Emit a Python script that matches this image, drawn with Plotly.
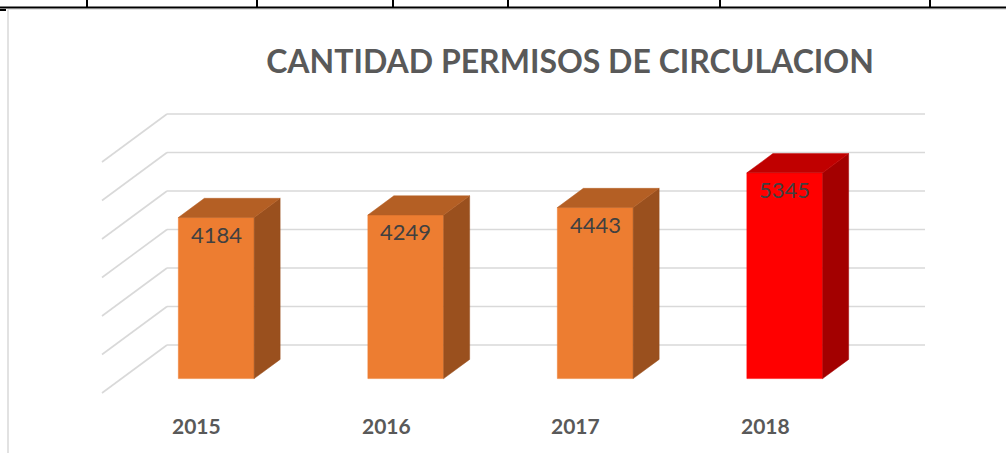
import plotly.graph_objects as go

# ---------------- data ----------------
years = ["2015", "2016", "2017", "2018"]
permits = [4184, 4249, 4443, 5345]
grid_values = [0, 1000, 2000, 3000, 4000, 5000, 6000]
title_text = "CANTIDAD PERMISOS DE CIRCULACION"

front_colors = ["#ED7D31", "#ED7D31", "#ED7D31", "#FF0000"]
top_colors = ["#B45F24", "#B45F24", "#B45F24", "#C00000"]
side_colors = ["#9A501E", "#9A501E", "#9A501E", "#A30000"]

# ---------------- geometry (pixels -> axis units) ----------------
W, H = 1006, 453
WALL_X0, WALL_X1 = 167, 925          # back wall left/right in pixels
ZERO_Y = 345                          # back wall value 0 in pixels
PX_PER_UNIT_Y = 38.5 / 1000           # pixels per value unit
PX_PER_CAT = (WALL_X1 - WALL_X0) / len(years)

x_range = [-WALL_X0 / PX_PER_CAT, (W - WALL_X0) / PX_PER_CAT]
y_range = [(ZERO_Y - H) / PX_PER_UNIT_Y, ZERO_Y / PX_PER_UNIT_Y]

DX = 65 / PX_PER_CAT                  # full floor depth, x direction
DY = 48 / PX_PER_UNIT_Y               # full floor depth, y direction
BAR_W = 0.4
D_FRONT, D_BACK = 0.3, 0.7           # bar depth span (0 = front, 1 = back)


def proj(x, v, d):
    """project back-wall coords (x, v) at depth d onto the plot plane"""
    return x - (1 - d) * DX, v - (1 - d) * DY


fig = go.Figure()

# gridlines: back wall + left-side diagonals
gx, gy = [], []
for g in grid_values:
    gx += [0, len(years), None]
    gy += [g, g, None]
    x0, y0 = proj(0, g, 1)
    x1, y1 = proj(0, g, 0)
    gx += [x0, x1, None]
    gy += [y0, y1, None]
fig.add_trace(go.Scatter(x=gx, y=gy, mode="lines",
                         line=dict(color="#D9D9D9", width=1.6),
                         hoverinfo="skip", showlegend=False))

# bars as 3D boxes
for i, v in enumerate(permits):
    c = i + 0.5
    xl, xr = c - BAR_W / 2, c + BAR_W / 2
    # front face
    pts = [proj(xl, 0, D_FRONT), proj(xr, 0, D_FRONT),
           proj(xr, v, D_FRONT), proj(xl, v, D_FRONT)]
    fx = [p[0] for p in pts] + [pts[0][0]]
    fy = [p[1] for p in pts] + [pts[0][1]]
    fig.add_trace(go.Scatter(x=fx, y=fy, fill="toself", mode="lines",
                             fillcolor=front_colors[i],
                             line=dict(color=front_colors[i], width=0.5),
                             hoverinfo="skip", showlegend=False))
    # side face
    pts = [proj(xr, 0, D_FRONT), proj(xr, 0, D_BACK),
           proj(xr, v, D_BACK), proj(xr, v, D_FRONT)]
    sx = [p[0] for p in pts] + [pts[0][0]]
    sy = [p[1] for p in pts] + [pts[0][1]]
    fig.add_trace(go.Scatter(x=sx, y=sy, fill="toself", mode="lines",
                             fillcolor=side_colors[i],
                             line=dict(color=side_colors[i], width=0.5),
                             hoverinfo="skip", showlegend=False))
    # top face
    pts = [proj(xl, v, D_FRONT), proj(xr, v, D_FRONT),
           proj(xr, v, D_BACK), proj(xl, v, D_BACK)]
    tx = [p[0] for p in pts] + [pts[0][0]]
    ty = [p[1] for p in pts] + [pts[0][1]]
    fig.add_trace(go.Scatter(x=tx, y=ty, fill="toself", mode="lines",
                             fillcolor=top_colors[i],
                             line=dict(color=top_colors[i], width=0.5),
                             hoverinfo="skip", showlegend=False))
    # data label
    lx, ly = proj(c, v, D_FRONT)
    fig.add_annotation(x=lx, y=ly, text=str(v), showarrow=False,
                       xanchor="center", yanchor="top", yshift=-1,
                       font=dict(family="Lato", size=22, color="#404040"))
    # category label
    cx, cy = proj(c, 0, 0)
    fig.add_annotation(x=cx, y=cy, text="<b>%s</b>" % years[i], showarrow=False,
                       xanchor="center", yanchor="middle", yshift=-32,
                       font=dict(family="Lato", size=21, color="#595959"))

# decorative spreadsheet/table frame
shapes = []
shapes.append(dict(type="line", xref="paper", yref="paper",
                   x0=0, x1=1, y0=1 - 7.5 / H, y1=1 - 7.5 / H,
                   line=dict(color="#000000", width=2)))
for px in [87, 257, 393, 508, 720, 930]:
    shapes.append(dict(type="line", xref="paper", yref="paper",
                       x0=px / W, x1=px / W, y0=1, y1=1 - 7 / H,
                       line=dict(color="#000000", width=2)))
shapes.append(dict(type="line", xref="paper", yref="paper",
                   x0=0, x1=6 / W, y0=1 - 10 / H, y1=1 - 10 / H,
                   line=dict(color="#000000", width=2)))
shapes.append(dict(type="line", xref="paper", yref="paper",
                   x0=8 / W, x1=1, y0=1 - 9.5 / H, y1=1 - 9.5 / H,
                   line=dict(color="#E3E3E3", width=1)))
shapes.append(dict(type="line", xref="paper", yref="paper",
                   x0=8 / W, x1=8 / W, y0=1 - 9.5 / H, y1=0,
                   line=dict(color="#D9D9D9", width=1.5)))

fig.update_layout(
    width=W, height=H,
    margin=dict(l=0, r=0, t=0, b=0),
    paper_bgcolor="#FFFFFF", plot_bgcolor="#FFFFFF",
    xaxis=dict(range=x_range, visible=False, fixedrange=True),
    yaxis=dict(range=y_range, visible=False, fixedrange=True),
    title=dict(text="<b>%s</b>" % title_text, x=570 / W, y=1 - 61.5 / H,
               xanchor="center", yanchor="middle",
               font=dict(family="Lato", size=32, color="#595959")),
    shapes=shapes,
    showlegend=False,
)

fig.write_html("out.html", config={"displayModeBar": False},
               post_script="document.body.style.margin='0';document.body.style.overflow='hidden';")
